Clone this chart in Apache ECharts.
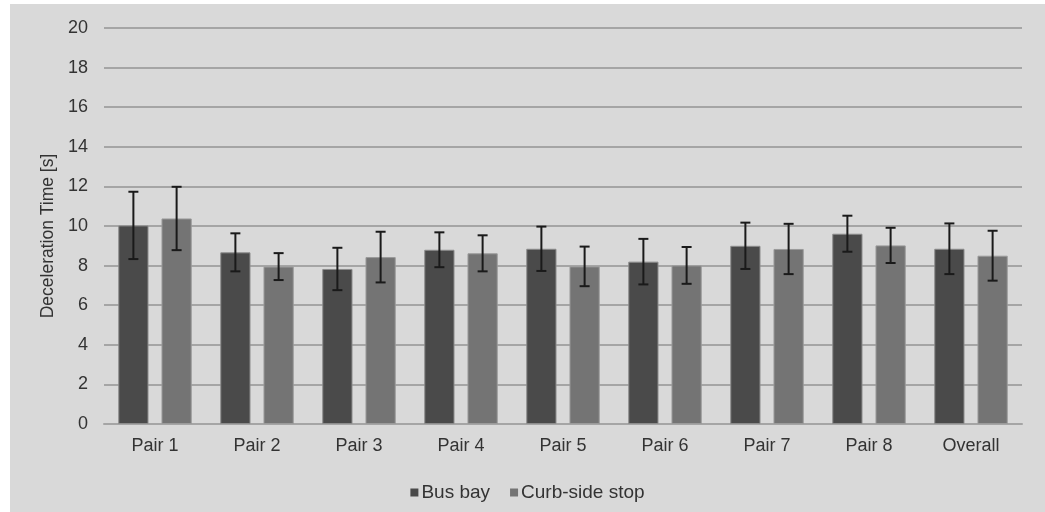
<!DOCTYPE html>
<html>
<head>
<meta charset="utf-8">
<script src="https://cdn.jsdelivr.net/npm/echarts@6/dist/echarts.min.js"></script>
<style>
html,body{margin:0;padding:0;background:#ffffff;}
#chart{position:absolute;left:10px;top:4px;width:1035px;height:508px;}
</style>
</head>
<body>
<div id="chart"></div>
<script>
const categories = ['Pair 1','Pair 2','Pair 3','Pair 4','Pair 5','Pair 6','Pair 7','Pair 8','Overall'];
const busBay = [10.03, 8.67, 7.83, 8.80, 8.85, 8.20, 9.00, 9.61, 8.85];
const busBayErr = [1.70, 0.96, 1.07, 0.88, 1.12, 1.15, 1.17, 0.91, 1.28];
const curbSide = [10.38, 7.95, 8.43, 8.62, 7.96, 8.01, 8.84, 9.02, 8.50];
const curbSideErr = [1.60, 0.68, 1.28, 0.91, 1.00, 0.93, 1.27, 0.89, 1.26];
const yTicks = [0, 2, 4, 6, 8, 10, 12, 14, 16, 18, 20];

const CAT_GAP = 0.28, BAR_GAP = 0.43;
const FONT = '"Liberation Sans", Arial, sans-serif';
const TXT = '#333333';

function errItem(seriesIdx) {
  return function (params, api) {
    const ci = api.value(0);
    const lo = api.value(1), hi = api.value(2);
    const band = api.size([1, 0])[0];
    const bw = band * (1 - CAT_GAP) / (2 + BAR_GAP);
    const total = bw * (2 + BAR_GAP);
    const cx = -total / 2 + bw / 2 + seriesIdx * bw * (1 + BAR_GAP);
    const pTop = api.coord([ci, hi]);
    const pBot = api.coord([ci, lo]);
    const x = pTop[0] + cx;
    const cap = 5;
    const style = {stroke: '#1a1a1a', lineWidth: 2, fill: null};
    return {
      type: 'group',
      children: [
        {type: 'line', shape: {x1: x, y1: pTop[1], x2: x, y2: pBot[1]}, style},
        {type: 'line', shape: {x1: x - cap, y1: pTop[1], x2: x + cap, y2: pTop[1]}, style},
        {type: 'line', shape: {x1: x - cap, y1: pBot[1], x2: x + cap, y2: pBot[1]}, style}
      ]
    };
  };
}

function errData(vals, errs) {
  return vals.map((v, i) => [i, v - errs[i], v + errs[i]]);
}

const chart = echarts.init(document.getElementById('chart'));
chart.setOption({
  backgroundColor: '#d9d9d9',
  animation: false,
  textStyle: {fontFamily: FONT},
  grid: {left: 94, right: 23, top: 24, bottom: 88, containLabel: false},
  legend: {
    data: ['Bus bay', 'Curb-side stop'],
    left: 'center',
    top: 474,
    itemWidth: 8,
    itemHeight: 8,
    itemGap: 20,
    icon: 'rect',
    itemStyle: {borderWidth: 0},
    textStyle: {color: TXT, fontSize: 19, fontFamily: FONT, padding: [0, 0, 0, -2]}
  },
  xAxis: {
    type: 'category',
    data: categories,
    axisLine: {show: true, lineStyle: {color: '#a5a5a5', width: 2}},
    axisTick: {show: false},
    axisLabel: {color: TXT, fontSize: 18, margin: 13, fontFamily: FONT}
  },
  yAxis: {
    type: 'value',
    min: yTicks[0],
    max: yTicks[yTicks.length - 1],
    interval: 2,
    name: 'Deceleration Time [s]',
    nameLocation: 'middle',
    nameGap: 46,
    nameTextStyle: {color: TXT, fontSize: 17.5, fontFamily: FONT, padding: [0, 20, 0, 0]},
    axisLine: {show: false},
    axisTick: {show: false},
    axisLabel: {color: TXT, fontSize: 18, margin: 16, fontFamily: FONT},
    splitLine: {lineStyle: {color: '#a5a5a5', width: 2}}
  },
  series: [
    {
      name: 'Bus bay', type: 'bar', data: busBay,
      barCategoryGap: (CAT_GAP * 100) + '%', barGap: (BAR_GAP * 100) + '%',
      itemStyle: {color: '#4a4a4a', borderColor: '#8c8c8c', borderWidth: 1}
    },
    {
      name: 'Curb-side stop', type: 'bar', data: curbSide,
      barCategoryGap: (CAT_GAP * 100) + '%', barGap: (BAR_GAP * 100) + '%',
      itemStyle: {color: '#747474', borderColor: '#9a9a9a', borderWidth: 1}
    },
    {
      type: 'custom', renderItem: errItem(0), data: errData(busBay, busBayErr),
      encode: {x: 0, y: [1, 2]}, z: 10, silent: true
    },
    {
      type: 'custom', renderItem: errItem(1), data: errData(curbSide, curbSideErr),
      encode: {x: 0, y: [1, 2]}, z: 10, silent: true
    }
  ]
});
</script>
</body>
</html>
